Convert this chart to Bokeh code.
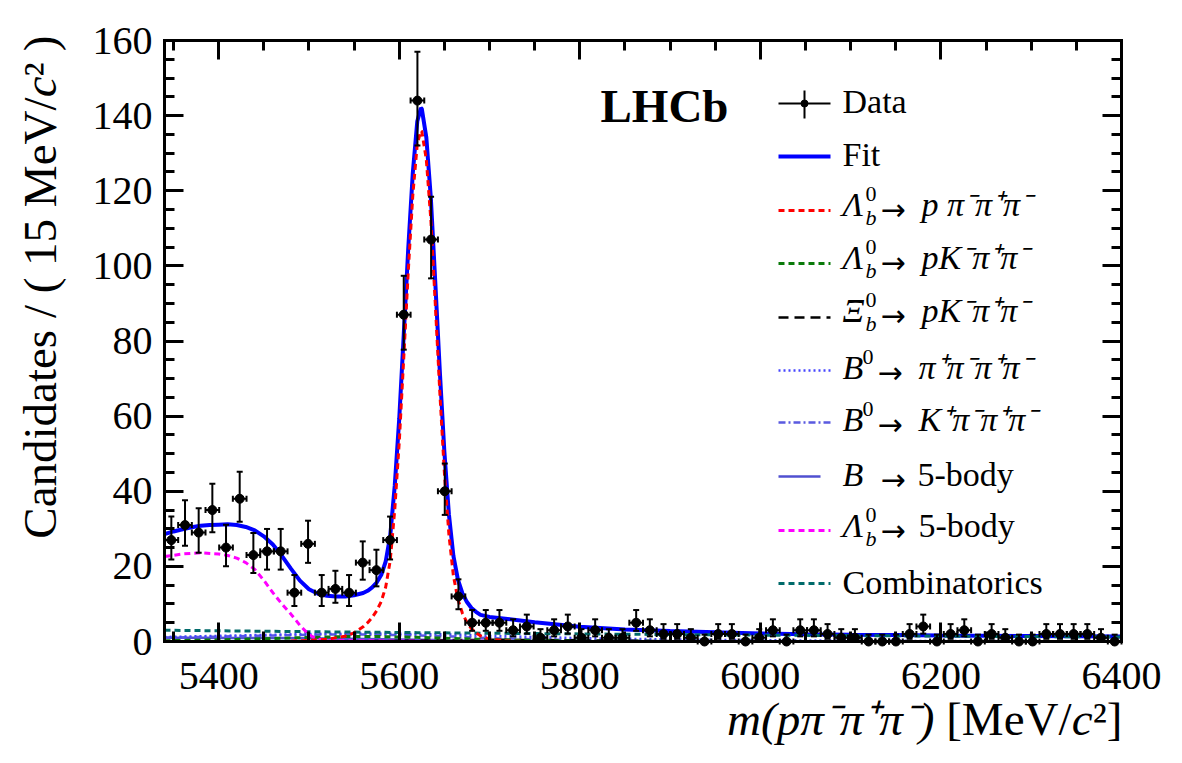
import numpy as np
from bokeh.plotting import figure
from bokeh.models import (ColumnDataSource, Whisker, TeeHead, SingleIntervalTicker,
                          LinearAxis, Range1d, CustomJSTickFormatter)
from bokeh.core.properties import value, field
from bokeh.embed import file_html
from bokeh.resources import INLINE

FONT = "Liberation Serif"

# ---------------------------------------------------------------------------
# Data: candidates per bin of m(p pi- pi+ pi-), 70 bins from 5340 to 6400 MeV/c^2
# ---------------------------------------------------------------------------
m_lo, m_hi = 5340.0, 6400.0
y_max = 160.0
counts = [27, 31, 29, 35, 25, 38, 23, 24, 24, 13,
          26, 13, 14, 13, 21, 19, 27, 87, 144, 107,
          40, 12, 5, 5, 5, 3, 4, 1, 3, 4,
          1, 3, 1, 1, 5, 3, 2, 2, 1, 0,
          2, 2, 0, 1, 3, 0, 3, 3, 2, 1,
          1, 0, 0, 0, 2, 4, 0, 2, 3, 0,
          2, 1, 0, 0, 2, 2, 2, 2, 1, 0]

# Total fit
fit_x = [5340, 5350, 5360, 5370, 5380, 5390, 5400, 5410, 5420, 5430, 5440, 5450,
         5460, 5470, 5480, 5490, 5500, 5510, 5520, 5530, 5540, 5550, 5560,
         5565, 5570, 5575, 5580, 5585, 5590, 5595, 5600, 5605, 5610, 5615, 5620,
         5624, 5625, 5630, 5635, 5640, 5645, 5650, 5655, 5660, 5665, 5670, 5675,
         5680, 5685, 5690,
         5700, 5720, 5750, 5800, 5850, 5900, 5950, 6000, 6050, 6100, 6150, 6200,
         6250, 6300, 6350, 6400]
fit_y = [28.6, 29.3, 29.9, 30.4, 30.8, 31.0, 31.1, 31.2, 31.0, 30.5, 29.6, 28.0,
         25.8, 22.8, 19.4, 16.2, 13.9, 12.7, 12.2, 12.0, 12.0, 12.3, 12.9,
         13.5, 14.4, 15.7, 17.7, 21.3, 28.1, 41.4, 59.3, 81.7, 104.7, 124.7, 138.5,
         142.0, 141.8, 134.2, 118.1, 95.3, 71.7, 50.5, 33.9, 22.8, 16.5, 12.8, 10.5,
         8.9, 7.9, 7.1,
         6.55, 6.0, 5.1, 3.9, 3.2, 2.8, 2.45, 2.15, 1.95, 1.8, 1.7, 1.6,
         1.52, 1.45, 1.38, 1.32]

# Signal: Lambda_b0 -> p pi- pi+ pi-
sig_x = [5480, 5500, 5520, 5540, 5550, 5560, 5565, 5570, 5575, 5580, 5585, 5590,
         5595, 5600, 5605, 5610, 5615, 5620, 5624, 5625, 5630, 5635, 5640, 5645,
         5650, 5655, 5660, 5665, 5670, 5675, 5680, 5685, 5690, 5700, 5720, 5740]
sig_y = [0.15, 0.3, 0.6, 1.4, 2.3, 3.9, 5.0, 6.4, 8.2, 10.6, 14.5, 21.5,
         35.0, 53.0, 75.5, 98.6, 118.7, 132.5, 136.0, 135.8, 128.3, 112.3, 89.6, 66.1,
         45.0, 28.5, 17.5, 11.2, 7.5, 5.1, 3.4, 2.3, 1.5, 0.65, 0.12, 0.03]

# Partially reconstructed Lambda_b0 -> 5-body
lb5_x = [5340, 5360, 5380, 5400, 5410, 5420, 5430, 5440, 5450, 5460, 5470, 5480,
         5490, 5500, 5510, 5520, 5560, 5620, 5700]
lb5_y = [22.6, 23.3, 23.6, 23.3, 22.9, 22.2, 21.0, 19.2, 16.3, 13.0, 10.0, 7.3,
         4.3, 1.8, 0.6, 0.3, 0.2, 0.1, 0.05]

# Small background components
comp_x = [5340, 5380, 5420, 5460, 5500, 5540, 5580, 5620, 5660, 5700, 5750, 5800,
          5900, 6000, 6100, 6200, 6300, 6400]
comb_y = [3.0, 2.9, 2.8, 2.71, 2.61, 2.53, 2.44, 2.36, 2.28, 2.2, 2.11, 2.02,
          1.85, 1.7, 1.56, 1.43, 1.31, 1.2]
b0_4pi_y = [1.2, 1.4, 1.6, 1.8, 2.0, 2.1, 2.1, 2.0, 1.85, 1.5, 1.2, 0.9,
            0.55, 0.35, 0.22, 0.14, 0.09, 0.06]
b0_k3pi_y = [1.0, 1.2, 1.4, 1.6, 1.8, 1.9, 1.8, 1.6, 1.3, 0.9, 0.6, 0.35,
             0.15, 0.06, 0.02, 0.0, 0.0, 0.0]
b_5body_y = [1.0, 1.0, 0.95, 0.9, 0.85, 0.75, 0.6, 0.45, 0.3, 0.2, 0.1, 0.05,
             0.0, 0.0, 0.0, 0.0, 0.0, 0.0]
lb_pk3pi_y = [0.2, 0.35, 0.55, 0.8, 1.1, 1.3, 1.3, 1.1, 0.8, 0.5, 0.25, 0.1,
              0.02, 0.0, 0.0, 0.0, 0.0, 0.0]
xib_pk3pi_y = [0.0, 0.0, 0.0, 0.0, 0.02, 0.05, 0.12, 0.25, 0.38, 0.45, 0.42, 0.3,
               0.1, 0.02, 0.0, 0.0, 0.0, 0.0]

x_tick_step, y_tick_step = 200, 20

# ---------------------------------------------------------------------------
# Binning and Poisson (Garwood) 68% intervals, Wilson-Hilferty form
# ---------------------------------------------------------------------------
edges = np.linspace(m_lo, m_hi, len(counts) + 1)
centres = 0.5 * (edges[:-1] + edges[1:])
n = np.array(counts, dtype=float)
safe = np.where(n > 0, n, 1.0)
lo = np.where(n > 0, safe * (1 - 1 / (9 * safe) - 1 / (3 * np.sqrt(safe))) ** 3, 0.0)
up = (n + 1) * (1 - 1 / (9 * (n + 1)) + 1 / (3 * np.sqrt(n + 1))) ** 3
data = ColumnDataSource(dict(x=centres, y=n, ylo=lo, yhi=up,
                             xlo=edges[:-1], xhi=edges[1:]))

# ---------------------------------------------------------------------------
# Canvas geometry: the plotting box occupies pixels [FL, FR] x [FT, FB];
# the ranges are widened so the whole canvas is drawable (titles included)
# ---------------------------------------------------------------------------
W, H = 1182, 763
FL, FR, FT, FB = 164, 1121, 40, 641
sx = (m_hi - m_lo) / (FR - FL)
sy = y_max / (FB - FT)
x_range = Range1d(m_lo - FL * sx, m_hi + (W - FR) * sx)
y_range = Range1d(-(H - FB) * sy, y_max + FT * sy)


def dx(px):
    return m_lo + (px - FL) * sx


def dy(py):
    return (FB - py) * sy


p = figure(width=W, height=H, x_range=x_range, y_range=y_range,
           x_axis_type=None, y_axis_type=None,
           output_backend="svg", toolbar_location=None, min_border=0,
           background_fill_color="white", border_fill_color="white")
p.xgrid.visible = False
p.ygrid.visible = False
p.outline_line_color = None


def make_axis(step, loc, bounds, labels):
    ax = LinearAxis(ticker=SingleIntervalTicker(interval=step, num_minor_ticks=4),
                    fixed_location=loc, bounds=bounds)
    ax.axis_line_width = 3
    ax.axis_line_color = "black"
    ax.axis_line_cap = "square"
    ax.major_tick_line_width = 3
    ax.minor_tick_line_width = 3
    ax.major_tick_in = 19
    ax.major_tick_out = 0
    ax.minor_tick_in = 10
    ax.minor_tick_out = 0
    ax.major_label_text_font = FONT
    ax.major_label_text_color = "black"
    if labels:
        ax.major_label_text_font_size = "40px"
    else:
        ax.major_label_text_font_size = "0px"
        ax.major_label_standoff = 0
        ax.formatter = CustomJSTickFormatter(code="return ''")
    return ax


x_bottom = make_axis(x_tick_step, 0, (m_lo, m_hi), True)
x_bottom.major_label_standoff = 21
y_left = make_axis(y_tick_step, m_lo, (0, y_max), True)
y_left.major_label_standoff = 12
p.add_layout(x_bottom, "below")
p.add_layout(make_axis(x_tick_step, y_max, (m_lo, m_hi), False), "above")
p.add_layout(y_left, "left")
p.add_layout(make_axis(y_tick_step, m_hi, (0, y_max), False), "right")

# ---------------------------------------------------------------------------
# Curves (fit first, components on top)
# ---------------------------------------------------------------------------
BLUE = "#0000ff"
styles = {
    "sig": dict(line_color="#ff0000", line_dash="6 4", line_width=3),
    "lbpk": dict(line_color="#0a7a0a", line_dash="6 4", line_width=3),
    "xib": dict(line_color="black", line_dash="10 6", line_width=2.5),
    "b04pi": dict(line_color="#4646ff", line_dash="2 3", line_width=2.5),
    "b0k3pi": dict(line_color="#5a5ae0", line_dash="7 3 2 3", line_width=2.5),
    "b5": dict(line_color="#5050d0", line_width=2.5),
    "lb5": dict(line_color="#ff00ff", line_dash="6 4", line_width=3),
    "comb": dict(line_color="#006a6a", line_dash="6 4", line_width=3),
}

p.line(fit_x, fit_y, line_color=BLUE, line_width=4)
p.line(comp_x, b_5body_y, **styles["b5"])
p.line(comp_x, b0_k3pi_y, **styles["b0k3pi"])
p.line(comp_x, b0_4pi_y, **styles["b04pi"])
p.line(comp_x, xib_pk3pi_y, **styles["xib"])
p.line(comp_x, lb_pk3pi_y, **styles["lbpk"])
p.line(comp_x, comb_y, **styles["comb"])
p.line(lb5_x, lb5_y, **styles["lb5"])
p.line(sig_x, sig_y, **styles["sig"])

# ---------------------------------------------------------------------------
# Data points with Poisson error bars
# ---------------------------------------------------------------------------
head = dict(size=6, line_width=2, line_color="black")
p.add_layout(Whisker(source=data, base="x", lower="ylo", upper="yhi", dimension="height",
                     line_color="black", line_width=2, level="annotation",
                     lower_head=TeeHead(**head), upper_head=TeeHead(**head)))
p.add_layout(Whisker(source=data, base="y", lower="xlo", upper="xhi", dimension="width",
                     line_color="black", line_width=2, level="annotation",
                     lower_head=TeeHead(**head), upper_head=TeeHead(**head)))
p.scatter("x", "y", source=data, size=9, color="black")

# ---------------------------------------------------------------------------
# Text helper (pixel layout -> plot coordinates), grouped by style
# ---------------------------------------------------------------------------
SHIFT = 0.37  # baseline correction, in em
groups = {}


def put(px, py, txt, size, style="normal", font=FONT, align="left", angle=0.0):
    key = (font, style, align, angle)
    g = groups.setdefault(key, dict(x=[], y=[], text=[], size=[]))
    if angle == 0.0:
        py = py - SHIFT * size
    else:
        px = px - SHIFT * size
    g["x"].append(dx(px))
    g["y"].append(dy(py))
    g["text"].append(txt)
    g["size"].append(f"{size}px")


# Legend
TX = 842
SZ = 34
baselines = [114, 167, 217, 270, 323, 380, 432, 487, 538, 595]
line_ys = [103, 156, 210, 263, 317, 370, 422, 476, 530, 583]


def arrow(px, base):
    put(px, base + 3, "→", 30, font="DejaVu Sans")


def baryon(base, sym):
    put(TX, base, sym, SZ, "italic")
    put(865, base - 15, "0", 22)
    put(865, base + 8, "b", 22, "italic")
    arrow(880, base)


put(TX, baselines[0], "Data", SZ)
ly = dy(line_ys[0])
p.segment(dx(778), ly, dx(830), ly, line_color="black", line_width=2)
p.segment(dx(804), dy(90), dx(804), dy(118), line_color="black", line_width=2)
p.scatter([dx(804)], [ly], size=7, color="black")

put(TX, baselines[1], "Fit", SZ)
p.line([dx(778), dx(830)], [dy(line_ys[1])] * 2, line_color=BLUE, line_width=4)

baryon(baselines[2], "Λ")
put(921, baselines[2], "p π⁻π⁺π⁻", SZ, "italic")
baryon(baselines[3], "Λ")
put(921, baselines[3], "pK⁻π⁺π⁻", SZ, "italic")
baryon(baselines[4], "Ξ")
put(921, baselines[4], "pK⁻π⁺π⁻", SZ, "italic")

put(TX, baselines[5], "B", SZ, "italic")
put(862, baselines[5] - 15, "0", 22)
arrow(877, baselines[5])
put(918, baselines[5], "π⁺π⁻π⁺π⁻", SZ, "italic")

put(TX, baselines[6], "B", SZ, "italic")
put(862, baselines[6] - 15, "0", 22)
arrow(877, baselines[6])
put(918, baselines[6], "K⁺π⁻π⁺π⁻", SZ, "italic")

put(TX, baselines[7], "B", SZ, "italic")
arrow(880, baselines[7])
put(917, baselines[7], "5-body", SZ)

baryon(baselines[8], "Λ")
put(918, baselines[8], "5-body", SZ)

put(TX, baselines[9], "Combinatorics", SZ)

legend_lines = ["sig", "lbpk", "xib", "b04pi", "b0k3pi", "b5", "lb5", "comb"]
for key, yy in zip(legend_lines, line_ys[2:]):
    x_end = 820 if key == "b5" else 830
    p.line([dx(778), dx(x_end)], [dy(yy)] * 2, **styles[key])

# Experiment tag
put(600, 123, "LHCb", 47, "bold")

# x-axis title, assembled right to left
TS = 47
put(1122, 736, "²]", TS, align="right")
put(1092, 736, "c", TS, "italic", align="right")
put(1071, 736, "[MeV/", TS, align="right")
put(934, 736, "m(pπ⁻π⁺π⁻)", TS, "italic", align="right")

# y-axis title, rotated, assembled top to bottom
YT = 47
up90 = np.pi / 2
put(57, 35, "\u00a0)", YT, align="right", angle=up90)
put(57, 62, "²", YT, align="right", angle=up90)
put(57, 76, "c", YT, "italic", align="right", angle=up90)
put(57, 97, "Candidates / ( 15 MeV/", YT, align="right", angle=up90)

for (font, style, align, angle), g in groups.items():
    src = ColumnDataSource(g)
    p.text("x", "y", text="text", source=src, text_font=value(font),
           text_font_size=field("size"), text_font_style=style,
           text_align=align, text_baseline="alphabetic", angle=angle,
           text_color="black")

open("out.html", "w").write(file_html(p, INLINE))
